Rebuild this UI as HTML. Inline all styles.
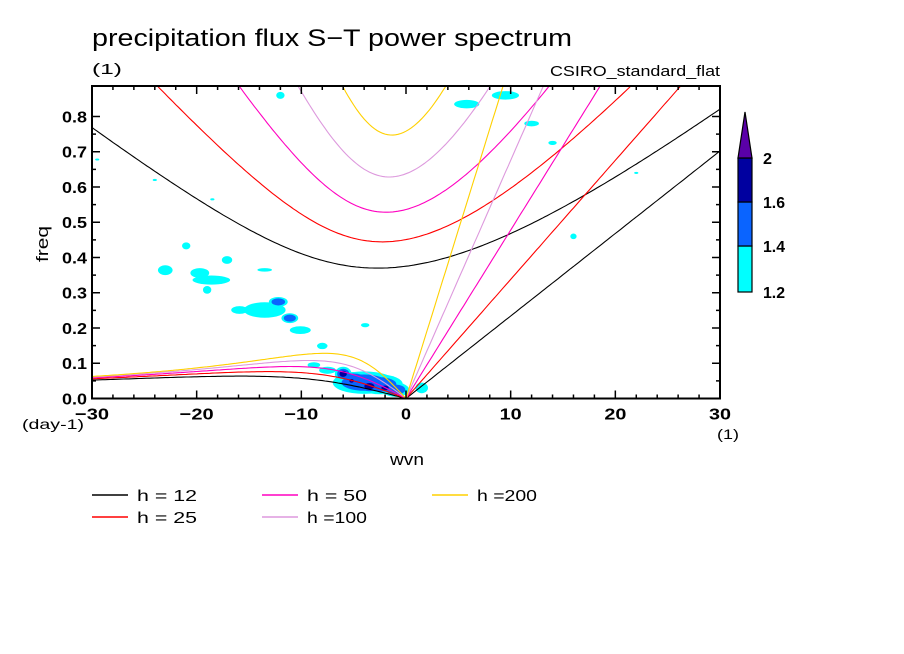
<!DOCTYPE html>
<html><head><meta charset="utf-8">
<style>
body{margin:0;background:#fff;}
svg{display:block;font-family:"Liberation Sans",sans-serif;}
</style></head>
<body>
<svg id="chart" width="904" height="654" viewBox="0 0 904 654">
<text x="92" y="46" font-size="24" textLength="480" lengthAdjust="spacingAndGlyphs" fill="#000">precipitation flux S−T power spectrum</text>
<text x="92" y="74" font-size="15" textLength="30" lengthAdjust="spacingAndGlyphs">(1)</text>
<text x="550" y="76" font-size="15" textLength="170" lengthAdjust="spacingAndGlyphs">CSIRO_standard_flat</text>
<defs><clipPath id="pc"><rect x="92" y="86" width="628" height="312.5"/></clipPath></defs>
<g id="shade" clip-path="url(#pc)"></g>
<g id="curves" clip-path="url(#pc)"></g>
<g id="axes"></g>
<text x="390" y="465" font-size="17" textLength="34" lengthAdjust="spacingAndGlyphs">wvn</text>
<text transform="translate(48,262) rotate(-90)" font-size="17" textLength="36" lengthAdjust="spacingAndGlyphs">freq</text>
<text x="22" y="429" font-size="14" textLength="62" lengthAdjust="spacingAndGlyphs">(day-1)</text>
<text x="717" y="439" font-size="14" textLength="22" lengthAdjust="spacingAndGlyphs">(1)</text>
<g id="cbar"></g>
<g id="legend"></g>
</svg>
<script>
const hValues=[12,25,50,100,200];
const hLabels=["h = 12","h = 25","h = 50","h =100","h =200"];
const hColors=["#000000","#ff0000","#ff00c0","#dd99dd","#ffd000"];
const levels=[1.2,1.4,1.6,2];
const levelColors=["#00ffff","#0a64ff","#0000a0","#5a00a8"];
// shading blobs: wavenumber, frequency, radius k, radius f, level index
const blobK=[-23.0,-21.0,-19.7,-18.6,-17.1,-13.5,-19.0,-13.5,-15.9,-12.2,-11.1,-10.1,-8.0,-3.9,-30.5,-29.5,-24,-18.5,-12,5.8,9.5,12,14,16,22,-4,-2.5,-5,-6,-1,1.5,-3.5,-2,-5.2,-7.5,-8.8];
const blobF=[0.364,0.433,0.356,0.336,0.393,0.365,0.308,0.251,0.251,0.274,0.228,0.194,0.149,0.208,0.475,0.678,0.62,0.565,0.86,0.835,0.86,0.78,0.725,0.46,0.64,0.045,0.04,0.06,0.07,0.025,0.03,0.035,0.03,0.05,0.08,0.095];
const blobRK=[0.7,0.4,0.9,1.8,0.5,0.7,0.4,2.0,0.8,0.9,0.8,1.0,0.5,0.4,0.6,0.2,0.2,0.2,0.4,1.2,1.3,0.7,0.4,0.3,0.2,3.0,2.2,1.4,0.8,1.3,0.6,1.1,0.8,0.5,0.8,0.6];
const blobRF=[0.014,0.01,0.014,0.013,0.011,0.005,0.011,0.022,0.011,0.014,0.014,0.011,0.009,0.006,0.005,0.003,0.003,0.003,0.01,0.012,0.012,0.008,0.006,0.008,0.003,0.032,0.028,0.015,0.02,0.02,0.015,0.02,0.015,0.012,0.01,0.008];
const blobL=[0,0,0,0,0,0,0,0,0,1,1,0,0,0,0,0,0,0,0,0,0,0,0,0,0,1,1,1,2,1,0,2,2,3,0,0];
const xTicks=[-30,-20,-10,0,10,20,30];
const yTicks=[0,0.1,0.2,0.3,0.4,0.5,0.6,0.7,0.8];

const NS="http://www.w3.org/2000/svg";
const X0=92,X1=720,Y0=398.5,YT=86,KMIN=-30,KMAX=30,FMAX=0.8865;
const xs=k=>X0+(k-KMIN)/(KMAX-KMIN)*(X1-X0);
const ys=f=>Y0-f/FMAX*(Y0-YT);
function mk(tag,attrs,parent){const e=document.createElementNS(NS,tag);for(const a in attrs)e.setAttribute(a,attrs[a]);parent.appendChild(e);return e;}

const shade=document.getElementById('shade');
for(let lv=0;lv<4;lv++){
  for(let i=0;i<blobK.length;i++){
    if(blobL[i]<lv)continue;
    const s=1-lv*0.28;
    const e=mk('ellipse',{cx:xs(blobK[i]),cy:ys(blobF[i]),rx:blobRK[i]*s*(X1-X0)/60,ry:blobRF[i]*s*(Y0-YT)/FMAX,fill:levelColors[lv]},shade);
    
    
  }
}

const a=6.371e6,beta=2*7.292e-5/a,g=9.8,cpd=86400/(2*Math.PI);
function cubicRoot(k,c,w){
  const p=c*c*(k*k+3*beta/c),q=beta*k*c*c;
  for(let i=0;i<60;i++){const f=w*w*w-p*w-q,d=3*w*w-p;w-=f/d;}
  return w;
}
const curves=document.getElementById('curves');
hValues.forEach((h,j)=>{
  const c=Math.sqrt(g*h);
  let ig=[],er=[],kv=[];
  for(let wn=KMIN;wn<=KMAX+1e-9;wn+=0.25){
    const k=wn/a;
    const w0=Math.sqrt(c*c*(k*k+3*beta/c));
    ig.push([wn,cubicRoot(k,c,w0*2)*cpd]);
    if(wn<=0){er.push([wn,(wn===0?0:cubicRoot(k,c,-beta*k/(k*k+3*beta/c)))*cpd]);}
    if(wn>=0)kv.push([wn,k*c*cpd]);
  }
  [[ig,'ig'],[er,'rossby'],[kv,'kelvin']].forEach(([pts,nm])=>{
    const p=mk('polyline',{points:pts.map(q=>xs(q[0]).toFixed(1)+','+ys(q[1]).toFixed(1)).join(' '),fill:'none',stroke:hColors[j],'stroke-width':1.1},curves);
    
    
  });
});

const ax=document.getElementById('axes');
mk('rect',{x:X0,y:YT,width:X1-X0,height:Y0-YT,fill:'none',stroke:'#000','stroke-width':2},ax);
for(let k=-30;k<=30;k+=2){
  const maj=k%10===0,L=maj?8:4;
  mk('line',{x1:xs(k),x2:xs(k),y1:Y0,y2:Y0-L,stroke:'#000','stroke-width':1.5},ax);
  mk('line',{x1:xs(k),x2:xs(k),y1:YT,y2:YT+L,stroke:'#000','stroke-width':1.5},ax);
}
for(let f=0;f<=0.85;f+=0.05){
  const maj=Math.round(f*100)%10===0,L=maj?8:4;
  mk('line',{x1:X0,x2:X0+L,y1:ys(f),y2:ys(f),stroke:'#000','stroke-width':1.5},ax);
  mk('line',{x1:X1,x2:X1-L,y1:ys(f),y2:ys(f),stroke:'#000','stroke-width':1.5},ax);
}
xTicks.forEach(k=>{
  const s=(k<0?'−':'')+Math.abs(k);
  const w=k===0?10:(k<0?34:22);
  const t=mk('text',{x:xs(k)-w/2,y:Y0+21,'font-size':16,'font-weight':'bold',textLength:w,lengthAdjust:'spacingAndGlyphs'},ax);
  t.textContent=s;
  
  
});
yTicks.forEach(f=>{
  const t=mk('text',{x:X0-30,y:ys(f)+6,'font-size':16,'font-weight':'bold',textLength:25,lengthAdjust:'spacingAndGlyphs'},ax);
  t.textContent=f.toFixed(1);
  
  
});

const cb=document.getElementById('cbar');
const segY=[292,246,202,158];
for(let i=0;i<3;i++){
  const r=mk('rect',{x:738,y:segY[i+1],width:14,height:segY[i]-segY[i+1],fill:levelColors[i],stroke:'#000','stroke-width':1.2},cb);
  
  
}
const tri=mk('polygon',{points:'738,158 752,158 745,112',fill:levelColors[3],stroke:'#000','stroke-width':1.2},cb);


levels.forEach((v,i)=>{
  const s=String(v);
  const t=mk('text',{x:763,y:[292,246,202,158][i]+6,'font-size':16,'font-weight':'bold',textLength:s.length>1?22:9,lengthAdjust:'spacingAndGlyphs'},cb);
  t.textContent=s;
  
  
});

const lg=document.getElementById('legend');
const legPos=[[92,495],[92,517],[262,495],[262,517],[432,495]];
hValues.forEach((h,j)=>{
  const [x,y]=legPos[j];
  const g2=mk('g',{},lg);
  
  
  mk('line',{x1:x,x2:x+36,y1:y,y2:y,stroke:hColors[j],'stroke-width':1.5},g2);
  const t=mk('text',{x:x+45,y:y+6,'font-size':16,textLength:60,lengthAdjust:'spacingAndGlyphs'},g2);
  t.textContent=hLabels[j];
});
</script>
</body></html>
